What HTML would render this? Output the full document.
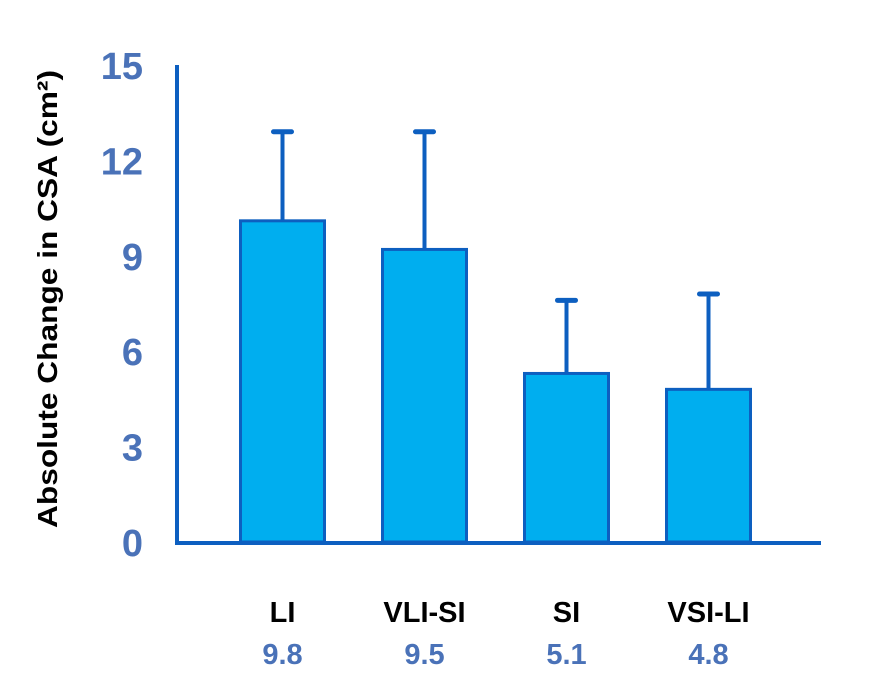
<!DOCTYPE html>
<html><head><meta charset="utf-8"><style>
body{margin:0;background:#fff;}
svg{display:block;font-family:"Liberation Sans",sans-serif;font-weight:bold;}
</style></head><body>
<svg id="chart" width="881" height="696" viewBox="0 0 881 696">
<text transform="translate(57,299) rotate(-90)" text-anchor="middle" font-size="28" textLength="458" lengthAdjust="spacingAndGlyphs" fill="#000">Absolute Change in CSA (cm²)</text>
<g id="ticks"></g><g id="bars"></g><g id="labels"></g>
<line x1="177" y1="65" x2="177" y2="545" stroke="#0d5fc0" stroke-width="4"/>
<line x1="175" y1="543" x2="821" y2="543" stroke="#0d5fc0" stroke-width="4"/>
</svg>
<script>
const categories=["LI","VLI-SI","SI","VSI-LI"];
const values=[10.1,9.2,5.3,4.8];
const errors=[12.9,12.9,7.6,7.8];
const valueLabels=["9.8","9.5","5.1","4.8"];
const tickValues=[0,3,6,9,12,15];
const NS="http://www.w3.org/2000/svg";
const y0=542,pxPerUnit=31.8;
function y(v){return y0-v*pxPerUnit;}
function xc(i){return 282.5+i*142;}
function mk(t,a,p){const e=document.createElementNS(NS,t);for(const k in a)e.setAttribute(k,a[k]);p.appendChild(e);return e;}
const tg=document.getElementById('ticks'),bg=document.getElementById('bars'),lg=document.getElementById('labels');
tickValues.forEach(v=>{const t=mk('text',{x:143,y:y(v)+14,'text-anchor':'end','font-size':38,fill:'#4a72b8'},tg);t.textContent=v;

});
categories.forEach((c,i)=>{
const x=xc(i),w=84;
const eb=mk('line',{x1:x,y1:y(values[i]),x2:x,y2:y(errors[i]),stroke:'#0d5fc0','stroke-width':4},bg);


const cap=mk('line',{x1:x-9,y1:y(errors[i]),x2:x+9,y2:y(errors[i]),stroke:'#0d5fc0','stroke-width':5,'stroke-linecap':'round'},bg);


const r=mk('rect',{x:x-w/2,y:y(values[i]),width:w,height:y0-y(values[i]),fill:'#00aeef',stroke:'#0d5fc0','stroke-width':3},bg);


const t=mk('text',{x:x,y:622,'text-anchor':'middle','font-size':29,fill:'#000'},lg);t.textContent=c;


const v=mk('text',{x:x,y:664,'text-anchor':'middle','font-size':29,fill:'#4a72b8'},lg);v.textContent=valueLabels[i];


});
</script>
</body></html>
